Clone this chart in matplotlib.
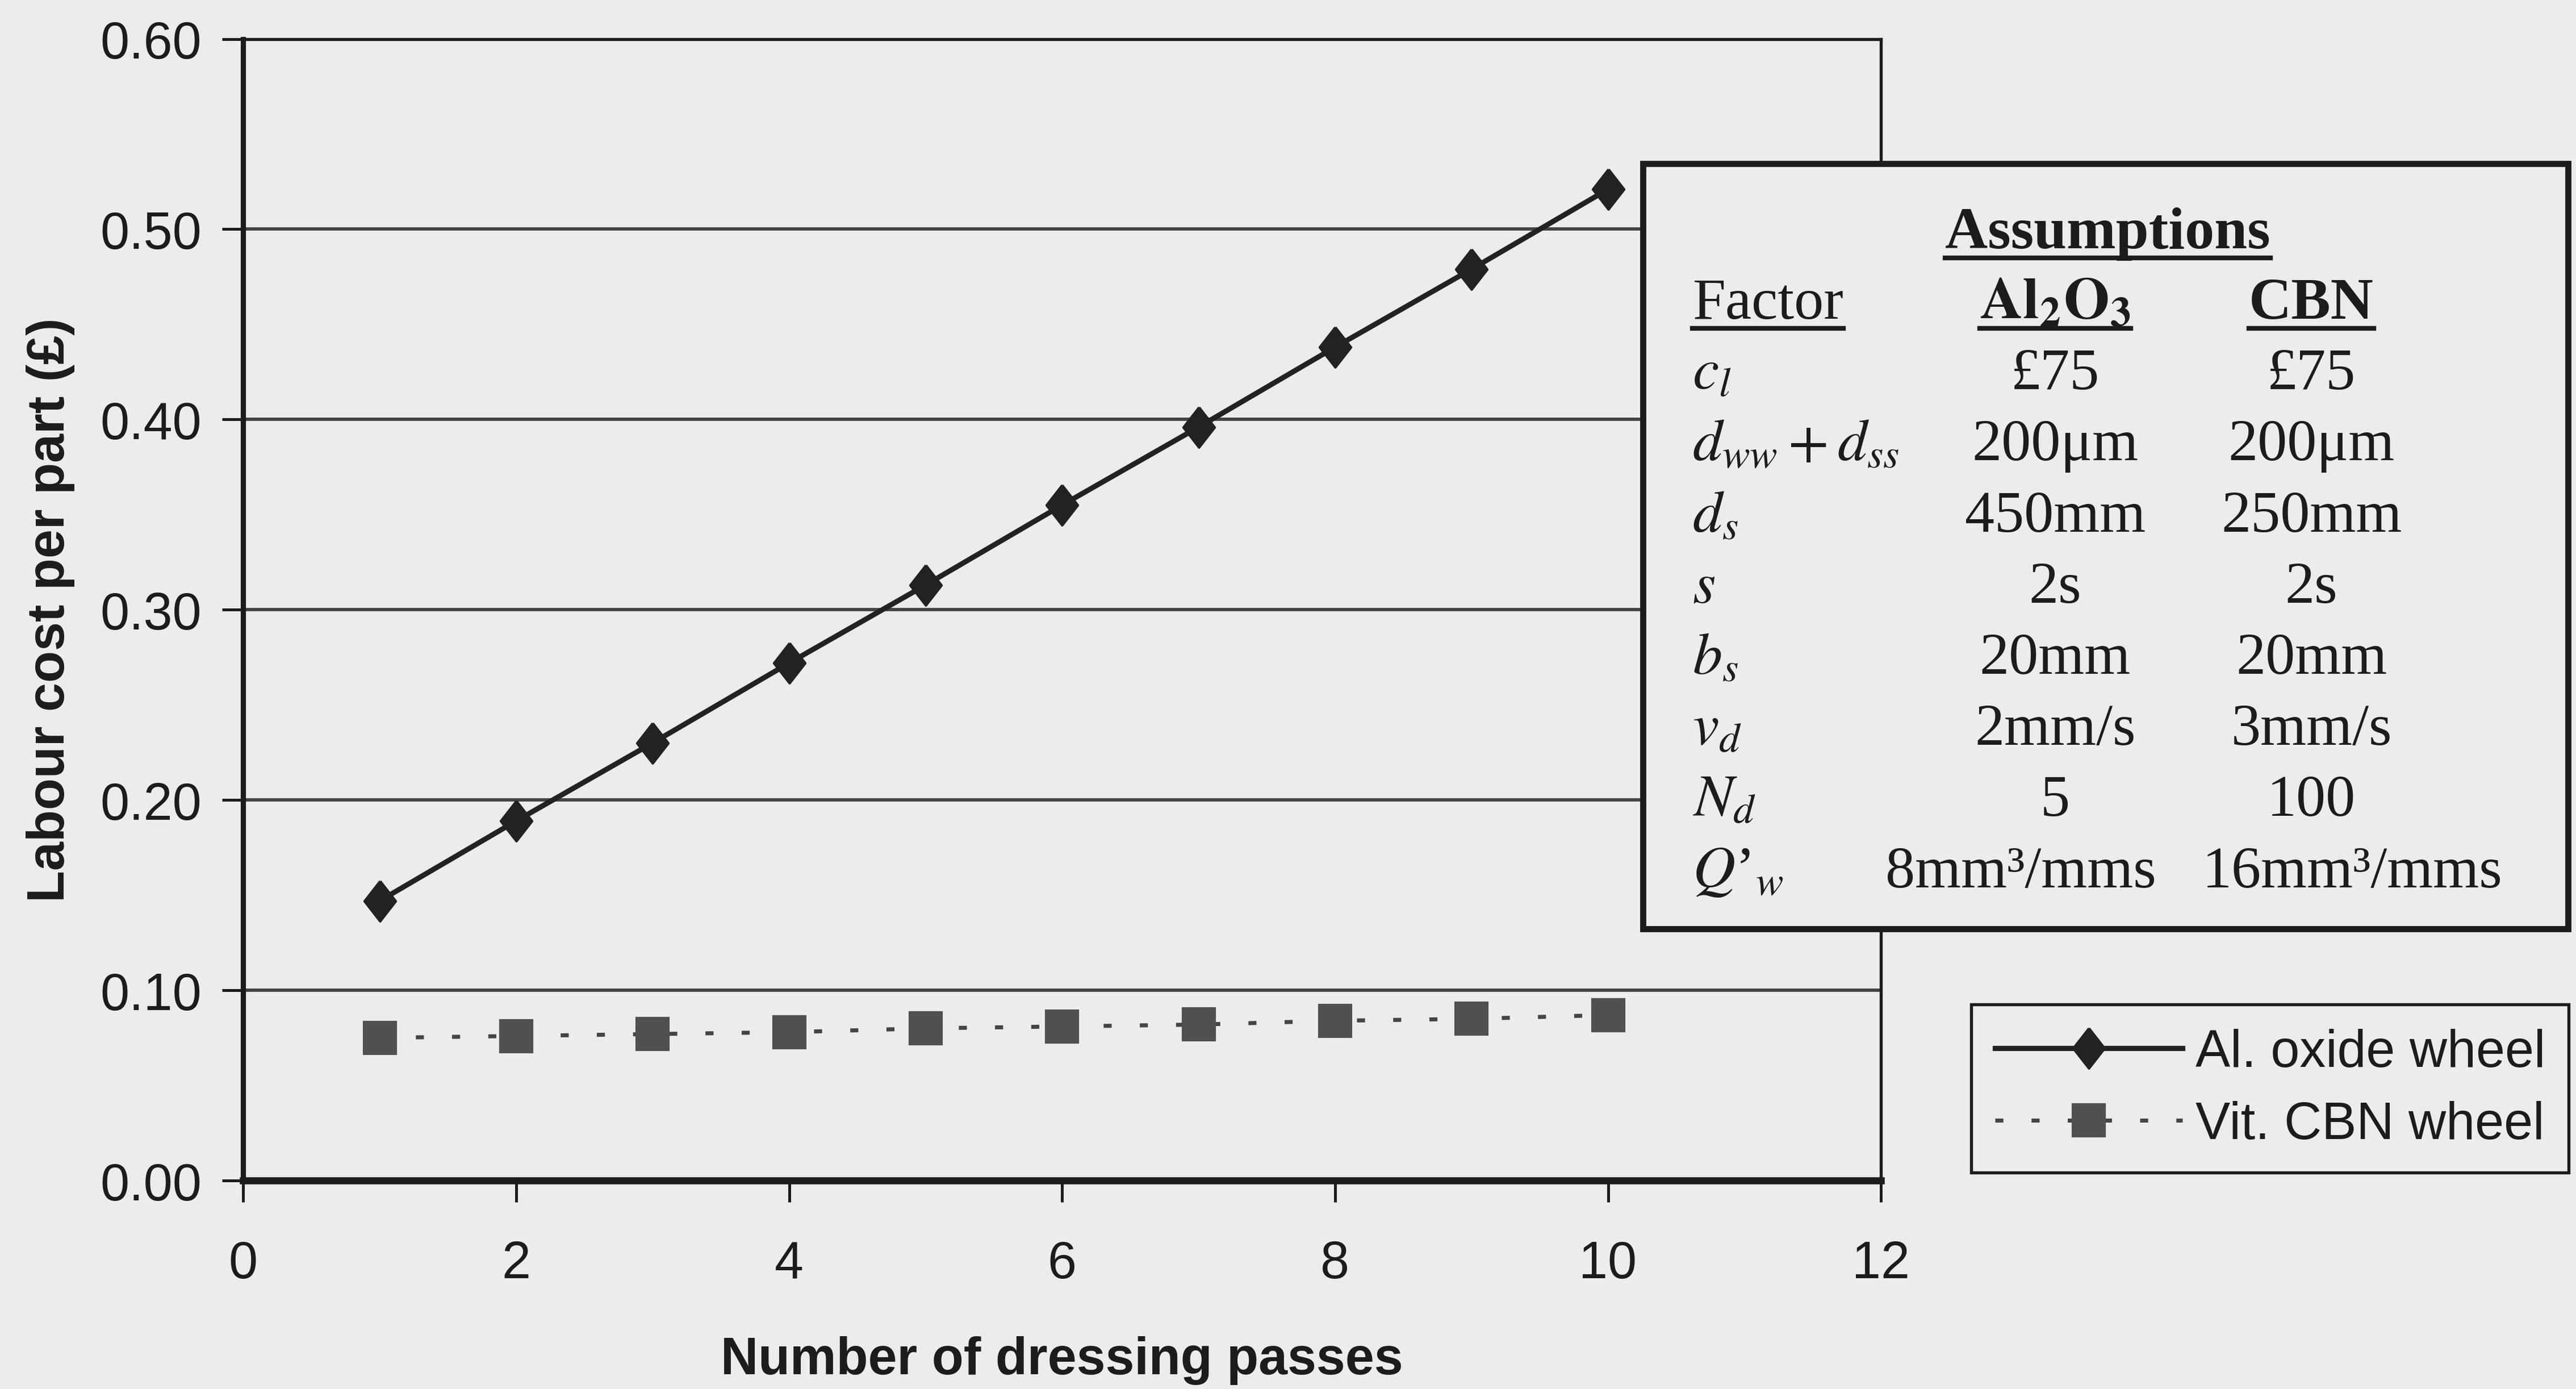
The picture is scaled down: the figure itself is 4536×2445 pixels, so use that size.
import matplotlib
matplotlib.use("Agg")
import matplotlib.pyplot as plt
from matplotlib.lines import Line2D
from matplotlib.patches import Rectangle
from matplotlib.ticker import FormatStrFormatter

# labour cost per part against number of dressing passes
passes = [1, 2, 3, 4, 5, 6, 7, 8, 9, 10]
al_oxide_cost = [0.147, 0.189, 0.230, 0.272, 0.313, 0.355, 0.396, 0.438, 0.479, 0.521]
cbn_cost = [0.075, 0.076, 0.077, 0.078, 0.080, 0.081, 0.082, 0.084, 0.085, 0.087]
series_names = ["Al. oxide wheel", "Vit. CBN wheel"]
x_ticks = [0, 2, 4, 6, 8, 10, 12]
y_ticks = [0.0, 0.1, 0.2, 0.3, 0.4, 0.5, 0.6]

# assumptions table
table_title = "Assumptions"
table_headers = ["Factor", r"$\mathbf{Al_2O_3}$", "CBN"]
factors = [r"$c_l$", r"$d_{ww} + d_{ss}$", r"$d_s$", r"$s$", r"$b_s$", r"$v_d$", r"$N_d$",
           r"$Q$’$_{w}$"]
al2o3_values = ["£75", "200μm", "450mm", "2s", "20mm", "2mm/s", "5", "8mm³/mms"]
cbn_values = ["£75", "200μm", "250mm", "2s", "20mm", "3mm/s", "100", "16mm³/mms"]

bg = "#ececec"
ink = "#1c1c1c"
sans = ["Liberation Sans", "DejaVu Sans"]
serif = ["Liberation Serif", "DejaVu Serif"]

plt.rcParams["font.family"] = sans
plt.rcParams["mathtext.fontset"] = "stix"
plt.rcParams["text.color"] = ink

fig = plt.figure(figsize=(15.12, 8.153), dpi=300, facecolor=bg)
ax = fig.add_axes([0.0944, 0.150, 0.6358, 0.8216], facecolor=bg)

ax.set_xlim(0, 12)
ax.set_ylim(0, 0.6)
ax.set_xticks(x_ticks)
ax.set_yticks(y_ticks)
ax.yaxis.set_major_formatter(FormatStrFormatter("%.2f"))
ax.yaxis.grid(True, color="#444444", lw=1.4)
ax.set_axisbelow(True)
ax.tick_params(axis="y", length=9, width=1.2, pad=8.5, labelsize=22, colors=ink)
ax.tick_params(axis="x", length=9, width=1.2, pad=16, labelsize=22, colors=ink)
for side, lw in [("left", 2.2), ("bottom", 3.0), ("top", 1.3), ("right", 1.3)]:
    ax.spines[side].set_linewidth(lw)
    ax.spines[side].set_color(ink)

diamond = [(0, 1), (0.78, 0), (0, -1), (-0.78, 0), (0, 1)]
ax.plot(passes, al_oxide_cost, color="#222222", lw=2.2, marker=diamond,
        markersize=17, label=series_names[0], zorder=3)
ax.plot(passes, cbn_cost, color="#444444", lw=1.7, linestyle=(0, (2.0, 7.0)),
        marker="s", markersize=13.5, markerfacecolor="#505050", markeredgecolor="#505050",
        label=series_names[1], zorder=3)

leg = ax.legend(loc="upper left", bbox_to_anchor=(0.7653, 0.2766),
                bbox_transform=fig.transFigure, borderaxespad=0, fontsize=22,
                handlelength=3.6, handletextpad=0.25, labelspacing=0.45,
                borderpad=0.45, fancybox=False, facecolor=bg, framealpha=1)
leg.get_frame().set_edgecolor(ink)
leg.get_frame().set_linewidth(1.3)

fig.text(0.0249, 0.561, "Labour cost per part (£)", rotation=90, rotation_mode="anchor",
         ha="center", va="baseline", fontsize=22, fontweight="bold")
fig.text(0.4123, 0.011, "Number of dressing passes", ha="center", va="baseline",
         fontsize=22, fontweight="bold")

# boxed table of assumptions laid over the chart
fig.add_artist(Rectangle((0.6378, 0.3310), 0.3591, 0.5508, transform=fig.transFigure,
                         facecolor=bg, edgecolor=ink, lw=2.6, zorder=1))

tsize = 25
col_x = [0.6569, 0.7978, 0.8973]
last_row_x = [0.7844, 0.9133]
underlined = []

t = fig.text(0.8182, 0.8215, table_title, ha="center", va="baseline",
             fontsize=tsize, fontweight="bold", family=serif)
underlined.append(t)
for i, h in enumerate(table_headers):
    t = fig.text(col_x[i], 0.7707, h, ha="left" if i == 0 else "center", va="baseline",
                 fontsize=tsize, fontweight="normal" if i == 0 else "bold", family=serif)
    underlined.append(t)

row_y0, row_step = 0.7199, 0.0512
for i, (f, a, c) in enumerate(zip(factors, al2o3_values, cbn_values)):
    y = row_y0 - i * row_step
    fig.text(col_x[0], y, f, ha="left", va="baseline", fontsize=tsize, family=serif)
    xa, xc = (last_row_x if i == len(factors) - 1 else col_x[1:])
    fig.text(xa, y, a, ha="center", va="baseline", fontsize=tsize, family=serif)
    fig.text(xc, y, c, ha="center", va="baseline", fontsize=tsize, family=serif)

fig.canvas.draw()
renderer = fig.canvas.get_renderer()
for t in underlined:
    bb = t.get_window_extent(renderer).transformed(fig.transFigure.inverted())
    yl = t.get_position()[1] - 0.0075
    fig.add_artist(Line2D([bb.x0, bb.x1], [yl, yl], transform=fig.transFigure,
                          color=ink, lw=2.0))

fig.savefig("out.png", dpi=300, facecolor=bg)
